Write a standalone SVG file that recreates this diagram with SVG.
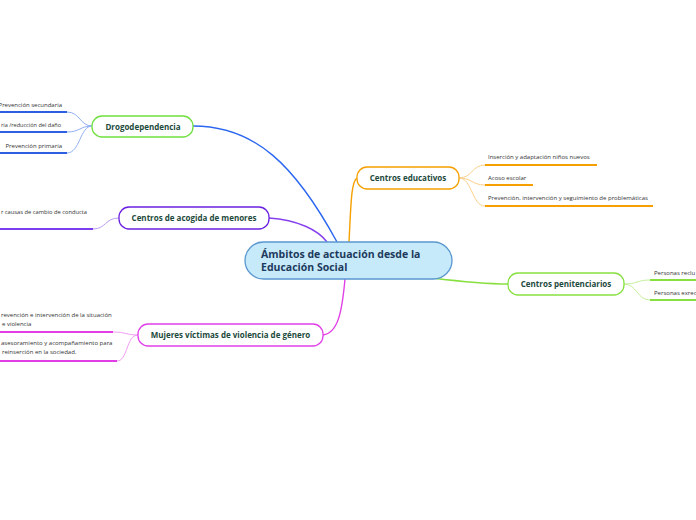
<svg xmlns="http://www.w3.org/2000/svg" width="696" height="520" viewBox="0 0 696 520">
<style>
.n{font-family:"Open Sans","Noto Sans",sans-serif;font-weight:700;font-size:8px;fill:#1d4a3c;text-anchor:middle}
.c{font-family:"Open Sans","Noto Sans",sans-serif;font-weight:700;font-size:10.5px;fill:#1d3a5c}
.l{font-family:"Open Sans","Noto Sans",sans-serif;font-size:6px;fill:#333}
.box{fill:#fff;stroke-width:1.3}
.m{fill:none;stroke-width:1.4}
.lc{fill:none;stroke-width:1}
.u{fill:none;stroke-width:2}
</style>
<rect width="696" height="520" fill="#fff"/>
<g id="connectors">
<path class="m" stroke="#2a66ef" d="M337,242 C295,165 255,126 193,126"/>
<path class="m" stroke="#8640ee" d="M269,218 C298,220 318,230 327,242"/>
<path class="m" stroke="#f5a000" d="M349,242 C351,205 351,182 357,178"/>
<path class="m" stroke="#e040e6" d="M345,279 C342,312 338,333 323,335"/>
<path class="m" stroke="#88e040" d="M432,278 C465,282 490,284 508,284"/>
<path class="lc" stroke="#92b0f6" d="M92,126 C80,126 80,112 67,112 M92,126 C80,126 80,132 67,132 M92,126 C80,126 80,153 67,153"/>
<path class="lc" stroke="#b99cf6" d="M119,218 C105,218 106,229 93,229"/>
<path class="lc" stroke="#f29ef2" d="M138,335 C126,335 126,332 113,332 M138,335 C126,335 128,361 117,361"/>
<path class="lc" stroke="#fbd08a" d="M459,178 C472,178 472,165 485,165 M459,178 C472,178 472,185 485,185 M459,178 C472,178 472,206 485,206"/>
<path class="lc" stroke="#c4f09c" d="M624,284 C637,284 637,280 650,280 M624,284 C637,284 637,300 650,300"/>
<path class="u" stroke="#2d5fe0" d="M0,112 H67 M0,132 H67 M0,153 H67"/>
<path class="u" stroke="#7b3ff0" d="M0,229 H93"/>
<path class="u" stroke="#e23ee6" d="M0,332 H113 M0,361 H117"/>
<path class="u" stroke="#f5a000" d="M485,165 H597 M485,185 H533 M485,206 H653"/>
<path class="u" stroke="#88e040" d="M650,280 H696 M650,300 H696"/>
</g>
<g id="central">
<rect x="245" y="242" width="207" height="37" rx="18.5" fill="#c7eafb" stroke="#5a97cf" stroke-width="1.3"/>
<text class="c" x="261" y="258">Ámbitos de actuación desde la</text>
<text class="c" x="261" y="271">Educación Social</text>
</g>
<g id="drogodependencia">
<rect class="box" x="92" y="116" width="101" height="21" rx="10" stroke="#6fe03e"/>
<text class="n" x="143" y="129.5">Drogodependencia</text>
</g>
<g id="drogo-leaves">
<text class="l" x="62" y="107" text-anchor="end">Prevención secundaria</text>
<text class="l" x="1" y="127" textLength="60" lengthAdjust="spacingAndGlyphs">ria /reducción del daño</text>
<text class="l" x="62" y="148" text-anchor="end">Prevención primaria</text>
</g>
<g id="acogida">
<rect class="box" x="119" y="207" width="150" height="22" rx="10" stroke="#6a20e0"/>
<text class="n" x="194" y="221">Centros de acogida de menores</text>
</g>
<g id="acogida-leaf">
<text class="l" x="1" y="214" textLength="86" lengthAdjust="spacingAndGlyphs">r causas de cambio de conducta</text>
</g>
<g id="mujeres">
<rect class="box" x="138" y="324" width="185" height="22" rx="10" stroke="#e040e8"/>
<text class="n" x="230.5" y="338">Mujeres víctimas de violencia de género</text>
</g>
<g id="mujeres-leaves">
<text class="l" x="1" y="317">revención e intervención de la situación</text>
<text class="l" x="2" y="326">e violencia</text>
<text class="l" x="1" y="345">asesoramiento y acompañamiento para</text>
<text class="l" x="2" y="354">reinserción en la sociedad.</text>
</g>
<g id="educativos">
<rect class="box" x="357" y="167" width="102" height="22" rx="10" stroke="#f5a000"/>
<text class="n" x="408" y="181">Centros educativos</text>
</g>
<g id="educativos-leaves">
<text class="l" x="488" y="159">Inserción y adaptación niños nuevos</text>
<text class="l" x="488" y="180">Acoso escolar</text>
<text class="l" x="488" y="200">Prevención, intervención y seguimiento de problemáticas</text>
</g>
<g id="penitenciarios">
<rect class="box" x="508" y="273" width="116" height="22" rx="10" stroke="#88e040"/>
<text class="n" x="566" y="287">Centros penitenciarios</text>
</g>
<g id="penitenciarios-leaves">
<text class="l" x="654" y="275">Personas reclu</text>
<text class="l" x="654" y="295">Personas exrec</text>
</g>
</svg>
